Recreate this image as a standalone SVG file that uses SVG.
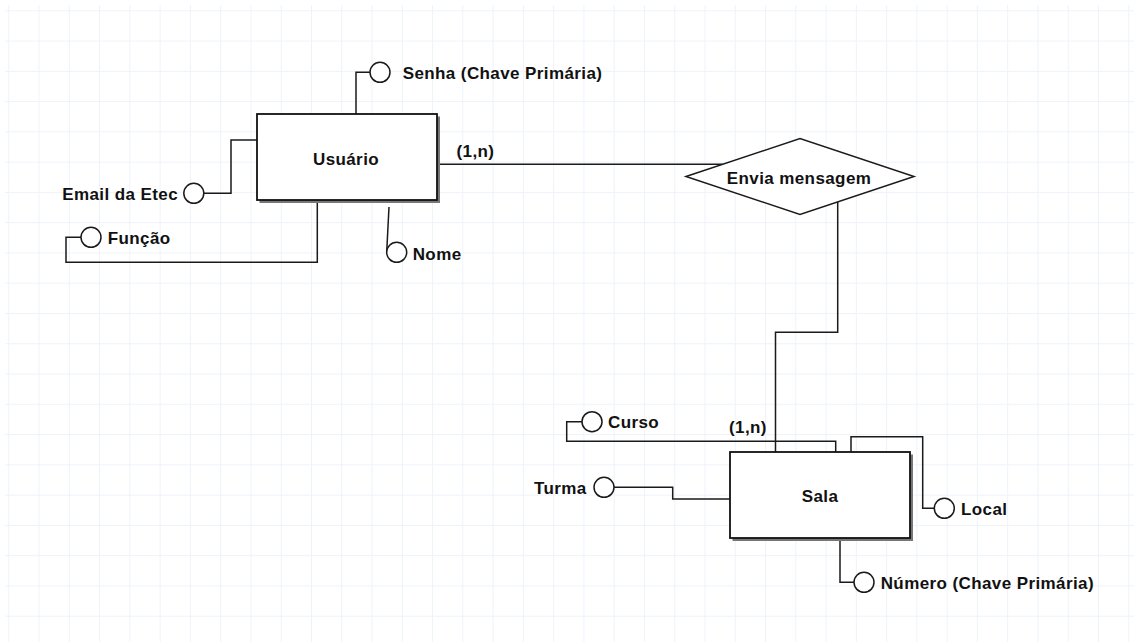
<svg xmlns="http://www.w3.org/2000/svg" width="1134" height="642" viewBox="0 0 1134 642">
<defs>
<pattern id="grid" x="8.3" y="10.3" width="30.27" height="30.27" patternUnits="userSpaceOnUse">
<path d="M0 0V30.27M0 0H30.27" fill="none" stroke="#eef3f9" stroke-width="2"/>
</pattern>
</defs>
<style>
text{font-family:"Liberation Sans",Arial,sans-serif;font-weight:bold;font-size:17px;fill:#111;letter-spacing:0.4px}
.ln{fill:none;stroke:#1a1a1a;stroke-width:1.5}
.at{fill:#fff;stroke:#1a1a1a;stroke-width:1.5}
.ent{fill:#fff;stroke:#111;stroke-width:1.8}
.sh{fill:#777}
</style>
<rect width="1134" height="642" fill="#fff"/>
<rect x="5" y="5" width="1129" height="637" fill="url(#grid)"/>
<g id="connectors">
<path class="ln" d="M437 164.3H722.6"/>
<path class="ln" d="M837.7 201.9V332.3H775.5V452"/>
<path class="ln" d="M356 114V72.3H370"/>
<path class="ln" d="M257 140H231V193.3H204"/>
<path class="ln" d="M317.3 200V262.3H66V237.3H81"/>
<path class="ln" d="M389 207L386.7 252.3"/>
<path class="ln" d="M582 421.7H566.7V441.3H835.7V452"/>
<path class="ln" d="M614 487.3H672.7V499H730"/>
<path class="ln" d="M851 452V436.7H922.7V508.3H934"/>
<path class="ln" d="M840 538V582.3H854"/>
</g>
<g id="usuario">
<rect class="sh" x="259.5" y="116.5" width="180.5" height="86.5"/>
<rect class="ent" x="257" y="114" width="180" height="86"/>
<text x="346" y="165" text-anchor="middle">Usuário</text>
</g>
<g id="sala">
<rect class="sh" x="732.5" y="454.5" width="180.5" height="86.5"/>
<rect class="ent" x="730" y="452" width="180" height="86"/>
<text x="820" y="501.5" text-anchor="middle">Sala</text>
</g>
<g id="envia">
<polygon class="at" points="686,176.5 800,138.5 914,176.5 800,214.5"/>
<text x="799" y="184" text-anchor="middle">Envia mensagem</text>
</g>
<g id="card1"><text x="456.5" y="157">(1,n)</text></g>
<g id="card2"><text x="729" y="433">(1,n)</text></g>
<g id="senha"><circle class="at" cx="380" cy="72.3" r="10"/><text x="402.7" y="79.3">Senha (Chave Primária)</text></g>
<g id="email"><circle class="at" cx="193.8" cy="193.3" r="10"/><text x="178" y="200" text-anchor="end">Email da Etec</text></g>
<g id="funcao"><circle class="at" cx="91" cy="237.3" r="10"/><text x="107.7" y="244">Função</text></g>
<g id="nome"><circle class="at" cx="396.7" cy="252.3" r="10"/><text x="412.7" y="259.5">Nome</text></g>
<g id="curso"><circle class="at" cx="592" cy="421.7" r="10"/><text x="608" y="428">Curso</text></g>
<g id="turma"><circle class="at" cx="604" cy="487.3" r="10"/><text x="586.7" y="494" text-anchor="end">Turma</text></g>
<g id="local"><circle class="at" cx="944.3" cy="508.3" r="10"/><text x="961" y="515">Local</text></g>
<g id="numero"><circle class="at" cx="864" cy="582.3" r="10"/><text x="880.7" y="589">Número (Chave Primária)</text></g>
</svg>
